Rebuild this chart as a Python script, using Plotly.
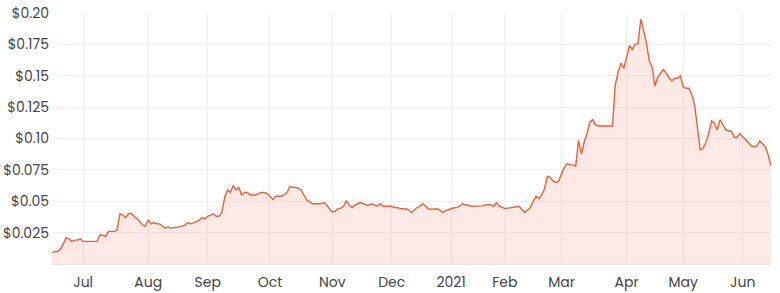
import pandas as pd
import plotly.graph_objects as go

# ASX trading days, 16 Jun 2020 - 16 Jun 2021
holidays = ["2020-12-25", "2020-12-28", "2021-01-01", "2021-01-26",
            "2021-04-02", "2021-04-05", "2021-06-14"]
dates = [d.strftime("%Y-%m-%d") for d in
         pd.bdate_range("2020-06-16", "2021-06-16", freq="C", holidays=holidays)]

prices = [
    0.009, 0.010, 0.010, 0.012, 0.016, 0.021, 0.020, 0.018, 0.019, 0.019,
    0.020, 0.018, 0.018, 0.018, 0.018, 0.018, 0.018, 0.0234, 0.023, 0.022,
    0.026, 0.026, 0.026, 0.027, 0.040, 0.039, 0.037, 0.040, 0.040, 0.038,
    0.036, 0.034, 0.031, 0.030, 0.035, 0.032, 0.033, 0.032, 0.032, 0.030,
    0.0285, 0.0295, 0.0285, 0.029, 0.029, 0.030, 0.030, 0.031, 0.033, 0.032,
    0.0325, 0.0335, 0.035, 0.037, 0.036, 0.038, 0.039, 0.040, 0.038, 0.038,
    0.041, 0.053, 0.059, 0.057, 0.0625, 0.059, 0.061, 0.055, 0.057, 0.057,
    0.055, 0.055, 0.055, 0.056, 0.057, 0.057, 0.056, 0.054, 0.0515, 0.054,
    0.054, 0.054, 0.055, 0.057, 0.0615, 0.0615, 0.061, 0.0605, 0.059, 0.055,
    0.051, 0.0495, 0.048, 0.048, 0.048, 0.048, 0.049, 0.047, 0.044, 0.0415,
    0.042, 0.044, 0.0445, 0.046, 0.0505, 0.047, 0.045, 0.047, 0.048, 0.049,
    0.048, 0.047, 0.047, 0.048, 0.047, 0.046, 0.048, 0.046, 0.046, 0.046,
    0.046, 0.045, 0.045, 0.044, 0.044, 0.044, 0.043, 0.041, 0.043, 0.045,
    0.046, 0.048, 0.046, 0.044, 0.0435, 0.044, 0.044, 0.043, 0.041, 0.0425,
    0.0435, 0.044, 0.0447, 0.045, 0.046, 0.048, 0.047, 0.047, 0.046, 0.046,
    0.046, 0.046, 0.0463, 0.047, 0.047, 0.0474, 0.046, 0.0487, 0.046, 0.045,
    0.0442, 0.0445, 0.045, 0.045, 0.0455, 0.046, 0.0434, 0.041, 0.043, 0.045,
    0.050, 0.054, 0.052, 0.055, 0.060, 0.070, 0.069, 0.066, 0.065, 0.066,
    0.072, 0.077, 0.080, 0.079, 0.079, 0.078, 0.0985, 0.0875, 0.097, 0.104,
    0.113, 0.115, 0.111, 0.110, 0.110, 0.110, 0.110, 0.110, 0.110, 0.143,
    0.153, 0.160, 0.156, 0.165, 0.174, 0.171, 0.175, 0.1755, 0.195, 0.186,
    0.176, 0.162, 0.157, 0.142, 0.149, 0.152, 0.155, 0.152, 0.148, 0.146,
    0.148, 0.148, 0.150, 0.141, 0.140, 0.140, 0.135, 0.127, 0.107, 0.091,
    0.092, 0.097, 0.104, 0.114, 0.112, 0.107, 0.115, 0.111, 0.107, 0.106,
    0.106, 0.101, 0.101, 0.104, 0.101, 0.099, 0.097, 0.094, 0.0935, 0.094,
    0.098, 0.096, 0.0935, 0.087, 0.078,
]

month_tick_dates = ["2020-07-01", "2020-08-03", "2020-09-01", "2020-10-01",
                    "2020-11-02", "2020-12-01", "2021-01-04", "2021-02-01",
                    "2021-03-01", "2021-04-01", "2021-05-03", "2021-06-01"]
month_tick_labels = ["Jul", "Aug", "Sep", "Oct", "Nov", "Dec", "2021", "Feb",
                     "Mar", "Apr", "May", "Jun"]

y_tick_vals = [0.025, 0.05, 0.075, 0.10, 0.125, 0.15, 0.175, 0.20]
y_tick_labels = ["$0.025", "$0.05", "$0.075", "$0.10", "$0.125", "$0.15",
                 "$0.175", "$0.20"]

n = min(len(dates), len(prices))
dates = dates[:n]
prices = prices[:n]

fig = go.Figure()
fig.add_trace(go.Scatter(
    x=dates, y=prices, mode="lines",
    line=dict(color="#e8603c", width=1.4),
    fill="tozeroy", fillcolor="rgba(248, 160, 140, 0.22)",
    hoverinfo="skip",
))

font_family = "Poppins, 'Open Sans', sans-serif"
fig.update_layout(
    width=780, height=293,
    margin=dict(l=52, r=9, t=13, b=29),
    paper_bgcolor="white", plot_bgcolor="white",
    showlegend=False,
    font=dict(family=font_family, size=14, color="#444444"),
    xaxis=dict(
        type="category",
        range=[0, n - 1],
        tickmode="array",
        tickvals=month_tick_dates,
        ticktext=month_tick_labels,
        showgrid=True, gridcolor="#eeeeee", gridwidth=1,
        showline=False, zeroline=False,
        ticks="", ticklabelstandoff=8,
        automargin=False,
    ),
    yaxis=dict(
        range=[0, 0.2],
        tickmode="array",
        tickvals=y_tick_vals,
        ticktext=y_tick_labels,
        showgrid=True, gridcolor="#eeeeee", gridwidth=1,
        showline=False, zeroline=True, zerolinecolor="#e6e6e6", zerolinewidth=1,
        ticks="", ticklabelstandoff=2,
        automargin=False,
    ),
)

fig.write_html("out.html")
